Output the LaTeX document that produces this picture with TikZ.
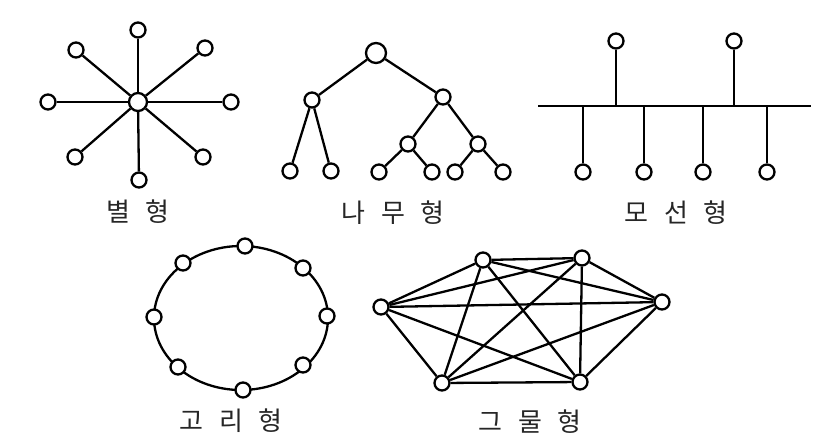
\documentclass[tikz,border=0pt]{standalone}
\usepackage{fontspec}
\newfontfamily\kr[WordSpace=2.7]{Noto Sans CJK KR}
\begin{document}
\begin{tikzpicture}[x=1pt,y=-1pt,line width=2.3pt,
  nd/.style={draw,circle,fill=white,inner sep=0pt,minimum size=15pt},
  bignd/.style={nd,minimum size=18pt},
  rootnd/.style={nd,minimum size=20pt},
  lbl/.style={font=\kr\fontsize{26}{28}\selectfont,text=black!85,inner sep=0pt}]
\useasboundingbox (0,0) rectangle (820,445);
% ---------- star ----------
\node[bignd] (sc) at (138,102) {};
\node[nd] (s1) at (138,30) {};
\node[nd] (s2) at (205,48) {};
\node[nd] (s3) at (231,102) {};
\node[nd] (s4) at (203,157) {};
\node[nd] (s5) at (139,180) {};
\node[nd] (s6) at (75,157) {};
\node[nd] (s7) at (48,102) {};
\node[nd] (s8) at (76,50) {};
\foreach \i in {1,...,8} \draw (sc) -- (s\i);
\node[lbl] (starlbl) at (138,212) {별 형};
% ---------- tree ----------
\node[rootnd] (t0) at (376,53) {};
\node[nd] (t1) at (312,100) {};
\node[nd] (t2) at (443,97) {};
\node[nd] (t3) at (408,144) {};
\node[nd] (t4) at (478,144) {};
\node[nd] (l1) at (290,171) {};
\node[nd] (l2) at (331,171) {};
\node[nd] (l3) at (379,172) {};
\node[nd] (l4) at (432,172) {};
\node[nd] (l5) at (455,172) {};
\node[nd] (l6) at (503,172) {};
\draw (t0) -- (t1); \draw (t0) -- (t2);
\draw (t1) -- (l1); \draw (t1) -- (l2);
\draw (t2) -- (t3); \draw (t2) -- (t4);
\draw (t3) -- (l3); \draw (t3) -- (l4);
\draw (t4) -- (l5); \draw (t4) -- (l6);
\node[lbl] (treelbl) at (393,213) {나 무 형};
% ---------- bus ----------
\coordinate (bL) at (538,106);
\coordinate (bR) at (811,106);
\draw (bL) -- (bR);
\node[nd] (u1) at (616,41) {};
\node[nd] (u2) at (734,41) {};
\coordinate (ua) at (616,106);
\coordinate (ub) at (734,106);
\draw (u1) -- (ua); \draw (u2) -- (ub);
\foreach \x [count=\k] in {583,644,703,767}{
  \node[nd] (d\k) at (\x,172) {};
  \coordinate (da\k) at (\x,106);
  \draw (d\k) -- (da\k);
}
\node[lbl] (buslbl) at (676,213) {모 선 형};
% ---------- ring ----------
\draw (241,318) ellipse [x radius=87, y radius=72];
\node[nd] (r1) at (245,246) {};
\node[nd] (r2) at (303,268) {};
\node[nd] (r3) at (327,316) {};
\node[nd] (r4) at (303,365) {};
\node[nd] (r5) at (243,390) {};
\node[nd] (r6) at (178,367) {};
\node[nd] (r7) at (154,317) {};
\node[nd] (r8) at (183,263) {};
\node[lbl] (ringlbl) at (231,421) {고 리 형};
% ---------- mesh ----------
\node[nd] (m1) at (381,307) {};
\node[nd] (m2) at (483,260) {};
\node[nd] (m3) at (582,258) {};
\node[nd] (m4) at (662,302) {};
\node[nd] (m5) at (580,382) {};
\node[nd] (m6) at (442,383) {};
\foreach \a/\b in {1/2,1/3,1/4,1/5,1/6,2/3,2/4,2/5,2/6,3/4,3/5,3/6,4/5,4/6,5/6}
  \draw (m\a) -- (m\b);
\node[lbl] (meshlbl) at (530,422) {그 물 형};
\end{tikzpicture}
\end{document}
